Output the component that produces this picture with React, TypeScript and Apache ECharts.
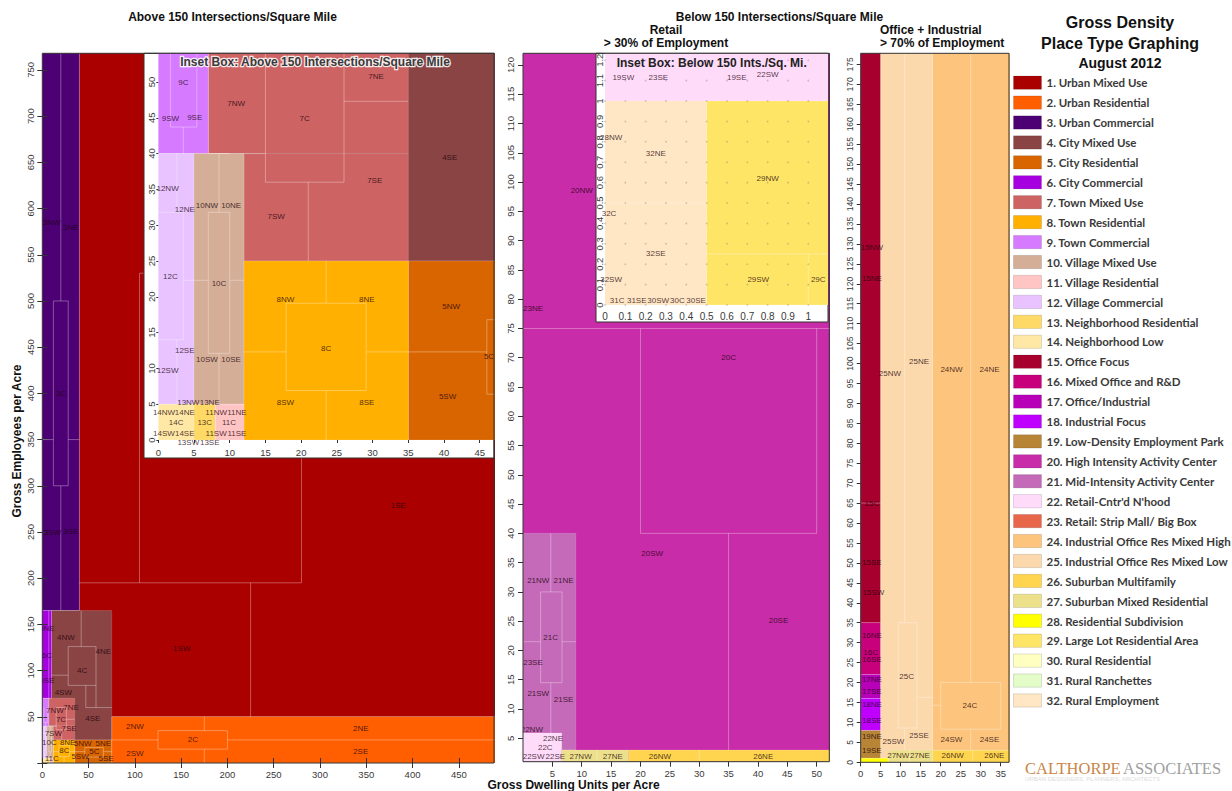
import React, { useEffect, useRef } from "react";
import * as echarts from "echarts";

// ---------- Legend data ----------
const placeTypeNames = [
  "1. Urban Mixed Use", "2. Urban Residential", "3. Urban Commercial", "4. City Mixed Use",
  "5. City Residential", "6. City Commercial", "7. Town Mixed Use", "8. Town Residential",
  "9. Town Commercial", "10. Village Mixed Use", "11. Village Residential", "12. Village Commercial",
  "13. Neighborhood Residential", "14. Neighborhood Low", "15. Office Focus", "16. Mixed Office and R&D",
  "17. Office/Industrial", "18. Industrial Focus", "19. Low-Density Employment Park",
  "20. High Intensity Activity Center", "21. Mid-Intensity Activity Center", "22. Retail-Cntr'd N'hood",
  "23. Retail: Strip Mall/ Big Box", "24. Industrial Office Res Mixed High", "25. Industrial Office Res Mixed Low",
  "26. Suburban Multifamily", "27. Suburban Mixed Residential", "28. Residential Subdivision",
  "29. Large Lot Residential Area", "30. Rural Residential", "31. Rural Ranchettes", "32. Rural Employment",
];
const placeTypeColors = [
  "#ab0000", "#ff5f00", "#4d0073", "#8b4444", "#d96500", "#a700e0", "#cd6363", "#ffb000",
  "#d67bff", "#d5ae98", "#ffc4c4", "#e8c3ff", "#ffd966", "#ffe8a6", "#a8002e", "#c8007c",
  "#b800b8", "#c000ff", "#b88536", "#c82ca8", "#c46ab8", "#ffdbfa", "#e8664a", "#fdc47d",
  "#fcd9ad", "#ffd54f", "#ede08a", "#ffff00", "#ffe566", "#ffffc2", "#e4fcc8", "#ffe6c4",
];

// ---------- Axis ticks ----------
const mainXTicks = [0, 50, 100, 150, 200, 250, 300, 350, 400, 450];
const mainYTicks = [0, 50, 100, 150, 200, 250, 300, 350, 400, 450, 500, 550, 600, 650, 700, 750];
const mainYLabels = [50, 100, 150, 200, 250, 300, 350, 400, 450, 500, 550, 600, 650, 700, 750];
const insetAXTicks = [0, 5, 10, 15, 20, 25, 30, 35, 40, 45];
const insetAYTicks = [0, 5, 10, 15, 20, 25, 30, 35, 40, 45, 50];
const belowXTicks = [5, 10, 15, 20, 25, 30, 35, 40, 45, 50];
const belowYTicks = [5, 10, 15, 20, 25, 30, 35, 40, 45, 50, 55, 60, 65, 70, 75, 80, 85, 90, 95, 100, 105, 110, 115, 120];
const insetBXTicks = [0, 0.1, 0.2, 0.3, 0.4, 0.5, 0.6, 0.7, 0.8, 0.9, 1];
const insetBYTicks = [0, 0.1, 0.2, 0.3, 0.4, 0.5, 0.6, 0.7, 0.8, 0.9, 1, 1.1, 1.2];
const officeXTicks = [0, 5, 10, 15, 20, 25, 30, 35];
const officeYTicks = [0, 5, 10, 15, 20, 25, 30, 35, 40, 45, 50, 55, 60, 65, 70, 75, 80, 85, 90, 95, 100, 105, 110, 115, 120, 125, 130, 135, 140, 145, 150, 155, 160, 165, 170, 175];

// ---------- Above 150 intersections: blocks [du0, du1, emp0, emp1, placeType] ----------
const aboveBlocks = [
  [40, 490, 50, 770, 1],
  [0, 40, 165, 770, 3],
  [75, 490, 0, 50, 2],
  [10, 75, 25, 165, 4],
  [0, 10, 70, 165, 6],
  [35, 75, 0, 25, 5],
  [7, 35, 40, 70, 7],
  [12, 35, 25, 40, 7],
  [0, 7, 40, 70, 9],
  [0, 5, 5, 40, 12],
  [5, 12, 5, 40, 10],
  [12, 35, 0, 25, 8],
  [0, 5, 0, 5, 14],
  [5, 8, 0, 5, 13],
  [8, 12, 0, 5, 11],
];
// subdivision lines [du0, emp0, du1, emp1]
const aboveLines = [
  [20, 500, 20, 770], [20, 165, 20, 300], [12, 300, 28, 300], [12, 500, 28, 500], [12, 300, 12, 500], [28, 300, 28, 500],
  [0, 350, 12, 350], [28, 350, 40, 350],
  [40, 195, 280, 195], [105, 530, 280, 530], [105, 195, 105, 530], [280, 195, 280, 530], [225, 50, 225, 195],
  [75, 25, 125, 25], [200, 25, 490, 25], [125, 15, 200, 15], [125, 35, 200, 35], [125, 15, 125, 35], [200, 15, 200, 35],
  [175, 0, 175, 15], [175, 35, 175, 50],
  [7, 70, 7, 165],
  [42, 126, 42, 165], [28, 84, 58, 84], [28, 126, 58, 126], [28, 84, 28, 126], [58, 60, 58, 126], [47, 60, 47, 84], [47, 60, 75, 60], [10, 95, 28, 95],
  [15, 36, 15, 60], [26, 36, 26, 60], [15, 36, 26, 36], [15, 60, 26, 60], [7, 40, 15, 40], [21, 25, 21, 36], [26, 47.3, 35, 47.3],
  [1.7, 43.7, 5.4, 43.7], [1.7, 43.7, 1.7, 60], [5.4, 43.7, 5.4, 60], [3.5, 40, 3.5, 43.7],
  [2.6, 31.8, 2.6, 40], [2.6, 5, 2.6, 14], [0, 14, 3.5, 14], [0, 31.8, 3.5, 31.8], [3.5, 14, 3.5, 31.8], [3.5, 22.3, 5, 22.3],
  [8.5, 31.8, 8.5, 40], [8.5, 5, 8.5, 12.1], [7, 12.1, 10, 12.1], [7, 31.8, 10, 31.8], [7, 12.1, 7, 31.8], [10, 12.1, 10, 31.8], [5, 22.3, 7, 22.3], [10, 22.3, 12, 22.3],
  [23.5, 19.1, 23.5, 25], [23.5, 0, 23.5, 6.9], [17.9, 6.9, 29.1, 6.9], [17.9, 19.1, 29.1, 19.1], [17.9, 6.9, 17.9, 19.1], [29.1, 6.9, 29.1, 19.1], [12, 12.3, 17.9, 12.3], [29.1, 12.3, 35, 12.3],
  [35, 12.3, 46, 12.3], [66, 12.3, 75, 12.3], [46, 6.4, 66, 6.4], [46, 16.8, 66, 16.8], [46, 6.4, 46, 16.8], [66, 6.4, 66, 16.8],
];
const aboveMainLabels: [string, number, number][] = [
  ["3NW", 10, 585], ["3NE", 30.7, 579], ["3C", 20, 400], ["3SW", 11, 249], ["3SE", 30.7, 250],
  ["1SW", 150.7, 124], ["1SE", 384.6, 279],
  ["2NW", 100, 39], ["2NE", 344, 37.5], ["2C", 162.6, 25], ["2SW", 100, 10.5], ["2SE", 344, 12],
  ["6NE", 5, 146], ["6C", 5, 116], ["6SE", 5, 89],
  ["4NW", 25.6, 135.6], ["4NE", 66, 121], ["4C", 43, 100], ["4SW", 22.7, 76.5], ["4SE", 54.5, 48.4],
  ["7NW", 13.7, 56.6], ["7NE", 31, 60.3], ["7C", 20.2, 47.6], ["7SE", 28.9, 37.5], ["7SW", 11.9, 32],
  ["10C", 7.6, 22], ["8NE", 27.4, 22.7], ["5NW", 43.7, 21.3], ["5NE", 66, 21.3], ["8C", 23.8, 14], ["5C", 56.2, 12.2],
  ["11C", 10.2, 5.1], ["5SW", 40.8, 6.8], ["5SE", 68.9, 5.1],
];
const aboveInsetLabels: [string, number, number][] = [
  ["9C", 3.5, 49.9], ["9SW", 1.7, 44.9], ["9SE", 5.1, 45],
  ["7NW", 10.9, 47], ["7C", 20.5, 44.9], ["7NE", 30.5, 50.7], ["7SE", 30.3, 36.2], ["7SW", 16.5, 31.2],
  ["4SE", 40.8, 39.4],
  ["12NW", 1.3, 35.1], ["12NE", 3.7, 32.2], ["12C", 1.7, 22.9], ["12SE", 3.7, 12.5], ["12SW", 1.3, 9.7],
  ["10NW", 6.8, 32.8], ["10NE", 10.2, 32.8], ["10C", 8.5, 21.9], ["10SW", 6.8, 11.2], ["10SE", 10.2, 11.2],
  ["8NW", 17.8, 19.6], ["8NE", 29.2, 19.6], ["8C", 23.5, 12.8], ["8SW", 17.8, 5.2], ["8SE", 29.2, 5.2],
  ["5NW", 41, 18.7], ["5C", 46.3, 11.6], ["5SW", 40.5, 6.1],
  ["13NW", 4.2, 5.2], ["13NE", 7.2, 5.2], ["14NW", 0.8, 3.8], ["14NE", 3.7, 3.8], ["11NW", 8.1, 3.8], ["11NE", 11, 3.8],
  ["14C", 2.5, 2.4], ["13C", 6.5, 2.4], ["11C", 9.9, 2.4],
  ["14SW", 0.8, 0.9], ["14SE", 3.7, 0.9], ["11SW", 8.1, 0.9], ["11SE", 11, 0.9],
  ["13SW", 4.2, -0.3], ["13SE", 7.2, -0.3],
];

// ---------- Below 150 intersections, retail ----------
const belowBlocks = [
  [0, 53, 1, 123, 20],
  [0, 9, 3, 40, 21],
  [0, 6.6, 1, 5.9, 22],
  [6.6, 18, 1, 3, 27],
  [18, 53, 1, 3, 26],
];
const belowLines = [
  [0, 75, 53, 75], [20, 40, 20, 75], [50, 40, 50, 75], [20, 40, 50, 40], [35, 3, 35, 40],
  [4.73, 30, 4.73, 40], [4.73, 3, 4.73, 14.5], [3, 14.5, 6.65, 14.5], [3, 30, 6.65, 30], [3, 14.5, 3, 30], [6.65, 14.5, 6.65, 30],
  [0, 21.5, 3, 21.5], [6.65, 21.5, 9, 21.5],
  [12.6, 1, 12.6, 3], [30, 1, 30, 3],
];
const belowLabels: [string, number, number][] = [
  ["20NW", 10, 98.5], ["23NE", 1.7, 78.4], ["20C", 35, 70], ["20SW", 22, 36.5], ["20SE", 43.5, 25.2],
  ["21NW", 2.6, 31.9], ["21NE", 6.9, 31.9], ["21C", 4.7, 22.2], ["23SE", 1.7, 17.9], ["21SW", 2.6, 12.7], ["21SE", 6.9, 11.7],
  ["22NW", 1.5, 6.5], ["22NE", 5.1, 5.0], ["22C", 3.8, 3.4], ["22SW", 1.8, 1.9], ["22SE", 5.5, 1.9],
  ["27NW", 9.8, 1.9], ["27NE", 15.3, 1.9], ["26NW", 23.3, 1.9], ["26NE", 40.9, 1.9],
];
const insetBBlocks = [
  [0, 1.2, 1.0, 1.3, 22],
  [0, 0.5, 0, 1.0, 32],
  [0.5, 1.2, 0, 1.0, 29],
];
const insetBLines = [
  [0.5, 0.25, 1.2, 0.25], [1.0, 0, 1.0, 0.25], [0, 0.5, 0.5, 0.5],
];
const insetBLabels: [string, number, number][] = [
  ["19SW", 0.09, 1.116], ["23SE", 0.262, 1.116], ["19SE", 0.648, 1.116], ["22SW", 0.8, 1.13],
  ["28NW", 0.03, 0.822], ["32NE", 0.25, 0.744], ["29NW", 0.8, 0.62], ["32C", 0.02, 0.449],
  ["32SE", 0.25, 0.253], ["32SW", 0.03, 0.126], ["29SW", 0.754, 0.126], ["29C", 1.049, 0.126],
  ["31C", 0.06, 0.02], ["31SE", 0.156, 0.02], ["30SW", 0.262, 0.02], ["30C", 0.356, 0.02], ["30SE", 0.448, 0.02],
];

// ---------- Below 150, office + industrial ----------
const officeBlocks = [
  [0, 5, 35, 180, 15],
  [0, 5, 22, 35, 16],
  [0, 5, 16, 22, 17],
  [0, 5, 8, 16, 18],
  [0, 5, 1, 8, 19],
  [5, 18, 1, 180, 25],
  [18, 38, 3, 180, 24],
  [0, 7, 0, 1, 28],
  [7, 18, 0, 3, 27],
  [18, 38, 0, 3, 26],
];
const officeLines = [
  [0, 65, 5, 65],
  [11, 35, 11, 180], [9.4, 8.6, 14.1, 8.6], [9.4, 35, 14.1, 35], [9.4, 8.6, 9.4, 35], [14.1, 8.6, 14.1, 35], [14.1, 16.3, 18, 16.3], [11, 3, 11, 8.6],
  [27.5, 20, 27.5, 180], [20, 8.3, 35, 8.3], [20, 20, 35, 20], [20, 8.3, 20, 20], [35, 8.3, 35, 20], [27.5, 3, 27.5, 8.3], [18, 14.3, 20, 14.3],
  [12.2, 0, 12.2, 3], [28, 0, 28, 3],
];
const officeLabels: [string, number, number][] = [
  ["15NW", 2.8, 129], ["15NE", 2.8, 121.4], ["15C", 2.8, 65], ["15SE", 2.8, 50], ["15SW", 3.2, 42.6],
  ["16NE", 2.8, 31.9], ["16C", 2.5, 27.6], ["16SE", 2.8, 25.8], ["17NE", 2.8, 20.8], ["17SE", 2.8, 17.7],
  ["18NE", 2.8, 14.4], ["18SE", 2.8, 10.4], ["19NE", 2.8, 6.4], ["19SE", 2.8, 2.9],
  ["25NW", 7.3, 97.5], ["25NE", 14.6, 100.5], ["24NW", 22.7, 98.4], ["24NE", 32.2, 98.4],
  ["25C", 11.5, 21.6], ["24C", 27.3, 14.3], ["25SW", 8.2, 5.3], ["25SE", 14.6, 6.7], ["24SW", 22.7, 5.75], ["24SE", 32.2, 5.75],
  ["27NW", 9.4, 1.8], ["27NE", 14.8, 1.8], ["26NW", 23, 1.8], ["26NE", 33.4, 1.8],
];

const FONT = "'Liberation Sans', Arial, Helvetica, sans-serif";

function blockSeries(axis: number, blocks: number[][], z: number) {
  return {
    type: "custom", xAxisIndex: axis, yAxisIndex: axis, z, clip: true, silent: true,
    data: blocks.map((b) => [b[0], b[2], b[1], b[3]]),
    renderItem: (params: any, api: any) => {
      const b = blocks[params.dataIndex];
      const p0 = api.coord([b[0], b[2]]);
      const p1 = api.coord([b[1], b[3]]);
      return {
        type: "rect",
        shape: { x: Math.min(p0[0], p1[0]), y: Math.min(p0[1], p1[1]), width: Math.abs(p1[0] - p0[0]), height: Math.abs(p1[1] - p0[1]) },
        style: { fill: placeTypeColors[b[4] - 1], stroke: "rgba(255,255,255,0.15)", lineWidth: 1 },
      };
    },
  };
}
function lineSeries(axis: number, lines: number[][], z: number) {
  return {
    type: "custom", xAxisIndex: axis, yAxisIndex: axis, z, clip: true, silent: true,
    data: lines.map((l) => [l[0], l[1]]),
    renderItem: (params: any, api: any) => {
      const l = lines[params.dataIndex];
      const p0 = api.coord([l[0], l[1]]);
      const p1 = api.coord([l[2], l[3]]);
      return { type: "line", shape: { x1: p0[0], y1: p0[1], x2: p1[0], y2: p1[1] }, style: { stroke: "rgba(255,255,255,0.32)", lineWidth: 1 } };
    },
  };
}
function labelSeries(axis: number, labels: [string, number, number][], z: number, clip: boolean) {
  return {
    type: "custom", xAxisIndex: axis, yAxisIndex: axis, z, clip, silent: true,
    data: labels.map((l) => [l[1], l[2]]),
    renderItem: (params: any, api: any) => {
      const l = labels[params.dataIndex];
      const p = api.coord([l[1], l[2]]);
      return {
        type: "text", x: p[0], y: p[1],
        style: { text: l[0], fill: "rgba(25,0,10,0.78)", font: `8px ${FONT}`, align: "center", textAlign: "center", verticalAlign: "middle", textVerticalAlign: "middle" },
      };
    },
  };
}
function frameSeries(axis: number, z: number) {
  return {
    type: "custom", xAxisIndex: axis, yAxisIndex: axis, z, clip: false, silent: true,
    data: [[0, 0]],
    renderItem: (params: any) => {
      const cs = params.coordSys;
      return { type: "rect", shape: { x: cs.x, y: cs.y, width: cs.width, height: cs.height }, style: { fill: "none", stroke: "#333", lineWidth: 1 } };
    },
  };
}
function insetBackground(axis: number, padLeft: number, padBottom: number, z: number) {
  return {
    type: "custom", xAxisIndex: axis, yAxisIndex: axis, z, clip: false, silent: true,
    data: [[0, 0]],
    renderItem: (params: any) => {
      const cs = params.coordSys;
      return {
        type: "rect",
        shape: { x: cs.x - padLeft, y: cs.y, width: cs.width + padLeft, height: cs.height + padBottom },
        style: { fill: "#fff", stroke: "#333", lineWidth: 1 },
      };
    },
  };
}

function xAxisOf(grid: number, min: number, max: number, ticks: number[], labels: number[] | null, fontSize: number, margin: number, z: number, position = "bottom", tickLen = 4) {
  return {
    type: "value", gridIndex: grid, min, max, position, z,
    axisLine: { show: false },
    splitLine: { show: false },
    axisTick: { show: true, customValues: ticks, length: tickLen, lineStyle: { color: "#333" } },
    axisLabel: labels
      ? { show: true, customValues: labels, fontSize, fontFamily: FONT, color: "#3a3a3a", margin }
      : { show: false },
  };
}
function yAxisOf(grid: number, min: number, max: number, ticks: number[], labels: number[] | null, fontSize: number, margin: number, z: number, position = "left", tickLen = 4) {
  return {
    type: "value", gridIndex: grid, min, max, position, z,
    axisLine: { show: false },
    splitLine: { show: false },
    axisTick: { show: true, customValues: ticks, length: tickLen, lineStyle: { color: "#333" } },
    axisLabel: labels
      ? { show: true, customValues: labels, fontSize, fontFamily: FONT, color: "#3a3a3a", margin, rotate: 90 }
      : { show: false },
  };
}

function txt(text: string, x: number, y: number, font: string, fill = "#111", align = "center", extra: any = {}) {
  return {
    type: "text", x, y, z: 100, silent: true, ...extra,
    style: { text, fill, font, align, textAlign: align, verticalAlign: "middle", textVerticalAlign: "middle", ...(extra.style || {}) },
  };
}

function buildOption() {
  const insetBDots = insetBXTicks.flatMap((x) => insetBYTicks.map((y) => [x, y]));
  const legendGraphics = placeTypeNames.flatMap((name, i) => [
    { type: "rect", z: 100, silent: true, shape: { x: 1013.5, y: 76 + i * 19.93, width: 28, height: 13.3 }, style: { fill: placeTypeColors[i], stroke: "rgba(0,0,0,0.12)", lineWidth: 1 } },
    txt(name, 1046.5, 82.9 + i * 19.93, "bold 11.5px Lato, 'Open Sans', sans-serif", "#3a3a3a", "left"),
  ]);
  const bold12 = `bold 12px ${FONT}`;
  return {
    animation: false,
    backgroundColor: "#fff",
    grid: [
      { left: 42.3, top: 53.3, width: 451.7, height: 709.7 },
      { left: 158.3, top: 53.3, width: 335.7, height: 386.7 },
      { left: 523, top: 53.3, width: 306.3, height: 708.4 },
      { left: 605, top: 53.3, width: 223, height: 251.7 },
      { left: 860.7, top: 53.3, width: 148.3, height: 709 },
    ],
    xAxis: [
      xAxisOf(0, 0, 488, mainXTicks, mainXTicks, 9.5, 6, 1, "bottom", 5),
      xAxisOf(1, 0, 47, insetAXTicks, insetAXTicks, 9.5, 7, 9, "bottom", 3),
      xAxisOf(2, 0, 52.15, belowXTicks, belowXTicks, 9.5, 7, 1, "bottom", 5),
      xAxisOf(3, 0, 1.097, insetBXTicks, insetBXTicks, 10, 6, 9, "bottom", 0),
      xAxisOf(4, 0, 37.08, officeXTicks, officeXTicks, 9.5, 6, 1, "bottom", 4),
      xAxisOf(0, 0, 488, mainXTicks, null, 9, 6, 1, "top", 5),
    ],
    yAxis: [
      yAxisOf(0, 0, 768, mainYTicks, mainYLabels, 9.5, 7, 1, "left", 5),
      yAxisOf(1, 0, 54, insetAYTicks, insetAYTicks, 9.5, 2, 9, "left", 2),
      yAxisOf(2, 1, 122, belowYTicks, belowYTicks, 9.5, 8, 1, "left", 5),
      yAxisOf(3, 0, 1.234, insetBYTicks, insetBYTicks, 9.5, 0.5, 9, "left", 0),
      yAxisOf(4, 0, 177.8, officeYTicks, officeYTicks, 8.5, 6, 1, "left", 4),
      yAxisOf(0, 0, 768, mainYTicks, null, 9, 6, 1, "right", 5),
    ],
    series: [
      // Above 150 main
      blockSeries(0, aboveBlocks, 1),
      lineSeries(0, aboveLines, 2),
      labelSeries(0, aboveMainLabels, 3, true),
      // Above 150 inset
      insetBackground(1, 14.3, 18, 4),
      blockSeries(1, aboveBlocks, 5),
      lineSeries(1, aboveLines, 6),
      labelSeries(1, aboveInsetLabels, 7, false),
      // Below 150 retail
      blockSeries(2, belowBlocks, 1),
      lineSeries(2, belowLines, 2),
      labelSeries(2, belowLabels, 3, true),
      // Below 150 inset
      insetBackground(3, 9, 17, 4),
      blockSeries(3, insetBBlocks, 5),
      lineSeries(3, insetBLines, 6),
      {
        type: "scatter", xAxisIndex: 3, yAxisIndex: 3, z: 6, silent: true, symbol: "circle", symbolSize: 1.8,
        itemStyle: { color: "rgba(110,110,110,0.4)" }, data: insetBDots,
      },
      labelSeries(3, insetBLabels, 7, false),
      // Office + industrial
      blockSeries(4, officeBlocks, 1),
      lineSeries(4, officeLines, 2),
      labelSeries(4, officeLabels, 3, true),
      // frames
      frameSeries(0, 8),
      frameSeries(2, 8),
      frameSeries(4, 8),
    ],
    graphic: [
      txt("Above 150 Intersections/Square Mile", 232.5, 16.7, bold12),
      txt("Below 150 Intersections/Square Mile", 779.5, 16.7, bold12),
      txt("Retail", 666, 30, bold12),
      txt("> 30% of Employment", 666, 43.3, bold12),
      txt("Office + Industrial", 880, 30, bold12, "#111", "left"),
      txt("> 70% of Employment", 880, 43.3, bold12, "#111", "left"),
      txt("Gross Dwelling Units per Acre", 573.5, 785, bold12),
      txt("Gross Employees per Acre", 17, 441, bold12, "#111", "center", { rotation: Math.PI / 2 }),
      txt("Inset Box: Above 150 Intersections/Square Mile", 315, 62, bold12, "#3a3a3a", "center", { style: { stroke: "rgba(255,255,255,0.85)", lineWidth: 2.5 } }),
      txt("Inset Box: Below 150 Ints./Sq. Mi.", 711.7, 63.3, bold12, "#222"),
      txt("Gross Density", 1120, 22.7, `bold 16px ${FONT}`),
      txt("Place Type Graphing", 1120, 43.3, `bold 16px ${FONT}`),
      txt("August 2012", 1120, 62.7, `bold 14px ${FONT}`),
      ...legendGraphics,
      txt("CALTHORPE", 1025, 768, "16.5px 'Liberation Serif', 'DejaVu Serif', serif", "#c8864a", "left"),
      txt("ASSOCIATES", 1123, 768, "16.5px 'Liberation Serif', 'DejaVu Serif', serif", "#a0a0a0", "left"),
      txt("URBAN DESIGNERS, PLANNERS, ARCHITECTS", 1025, 779, `6px ${FONT}`, "#dcdcdc", "left"),
    ],
  };
}

export default function App() {
  const ref = useRef<HTMLDivElement>(null);
  useEffect(() => {
    if (!ref.current) return;
    const chart = echarts.init(ref.current, null, { renderer: "svg" });
    chart.setOption(buildOption() as any);
    return () => chart.dispose();
  }, []);
  return (
    <div
      ref={ref}
      style={{ position: "fixed", left: 0, top: 0, width: 1232, height: 791, background: "#fff" }}
    />
  );
}
